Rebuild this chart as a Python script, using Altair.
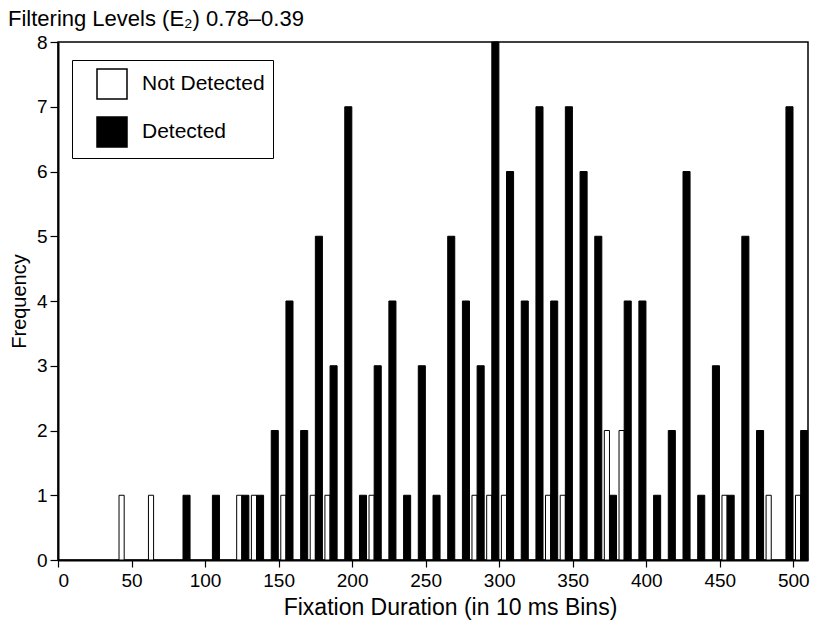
import altair as alt
import pandas as pd

nd_bins = [40, 60, 120, 130, 150, 170, 180, 210, 280, 290, 300, 330, 340, 370, 380, 450, 480, 500]
nd_counts = [1, 1, 1, 1, 1, 1, 1, 1, 1, 1, 1, 1, 1, 2, 2, 1, 1, 1]

d_bins = [80, 100, 120, 130, 140, 150, 160, 170, 180, 190,
          200, 210, 220, 230, 240, 250, 260, 270, 280, 290,
          300, 310, 320, 330, 340, 350, 360, 370, 380, 390,
          400, 410, 420, 430, 440, 450, 460, 470, 490, 500]
d_counts = [1, 1, 1, 1, 2, 4, 2, 5, 3, 7,
            1, 3, 4, 1, 3, 1, 5, 4, 3, 8,
            6, 4, 7, 4, 7, 6, 5, 1, 4, 4,
            1, 2, 6, 1, 3, 1, 5, 2, 7, 2]

x_ticks = [0, 50, 100, 150, 200, 250, 300, 350, 400, 450, 500]
y_ticks = [0, 1, 2, 3, 4, 5, 6, 7, 8]

rows = [{"bin": b, "count": c, "type": "Not Detected"} for b, c in zip(nd_bins, nd_counts)]
rows += [{"bin": b, "count": c, "type": "Detected"} for b, c in zip(d_bins, d_counts)]
df = pd.DataFrame(rows)

FONT = "Liberation Sans"

bars = alt.Chart(df).transform_calculate(
    x0="datum.bin + (datum.type == 'Detected' ? 5 : 1.5)",
    x1="datum.bin + (datum.type == 'Detected' ? 9.8 : 5)",
).mark_bar(stroke="black", strokeWidth=1).encode(
    x=alt.X("x0:Q", scale=alt.Scale(domain=[0, 510], nice=False, zero=False),
            axis=alt.Axis(values=x_ticks, title="Fixation Duration (in 10 ms Bins)",
                          tickSize=7, labelPadding=4, titlePadding=6, format="d",
                          titleFontSize=23, titleX=392)),
    x2="x1:Q",
    y=alt.Y("count:Q", scale=alt.Scale(domain=[0, 8], nice=False),
            axis=alt.Axis(values=y_ticks, title="Frequency", tickSize=8,
                          labelPadding=3, titlePadding=7, format="d",
                          titleFontSize=20)),
    y2=alt.datum(0),
    fill=alt.Fill("type:N",
                  scale=alt.Scale(domain=["Not Detected", "Detected"], range=["white", "black"]),
                  legend=alt.Legend(title=None, orient="none", legendX=14, legendY=18,
                                    strokeColor="black", padding=8, symbolType="square",
                                    symbolSize=900, symbolStrokeColor="black",
                                    symbolStrokeWidth=1.5, symbolOffset=16,
                                    labelOffset=14, rowPadding=12, labelFontSize=21,
                                    labelFont=FONT, labelColor="black", fillColor="white")),
)

chart = bars.properties(
    width=750,
    height=518,
    padding={"left": 50, "top": 34, "right": 8, "bottom": 67},
    autosize=alt.AutoSizeParams(type="none"),
    title=alt.TitleParams(text="Filtering Levels (E\u2082) 0.78\u20130.39", anchor="start",
                          frame="group", dx=-50, dy=22, offset=7, baseline="alphabetic",
                          fontSize=22, fontWeight="normal", font=FONT, color="black"),
).configure_view(
    stroke="black", strokeWidth=1.5
).configure_axis(
    grid=False, domainColor="black", domainWidth=2, tickColor="black", tickWidth=1.2,
    labelColor="black", labelFontSize=19, labelFont=FONT,
    titleColor="black", titleFontSize=21, titleFont=FONT, titleFontWeight="normal",
)

chart.save("out.html", embed_options={"renderer": "svg", "actions": False})
